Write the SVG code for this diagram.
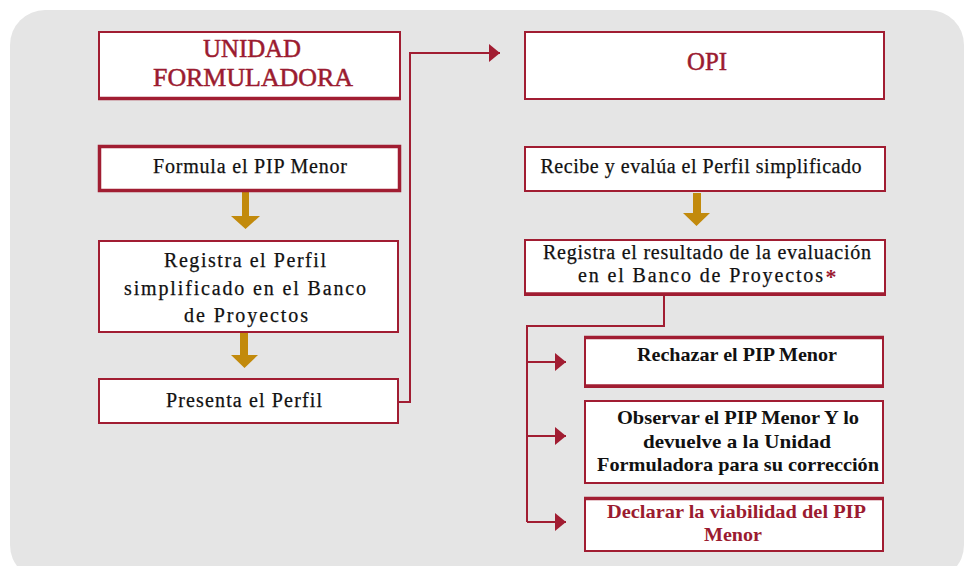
<svg xmlns="http://www.w3.org/2000/svg" width="965" height="566" viewBox="0 0 965 566">
  <style>
    .box { fill: #ffffff; stroke: #a11d32; stroke-width: 2; }
    .edge { stroke: #a11d32; stroke-width: 3.5; }
    .conn { fill: none; stroke: #a11d32; stroke-width: 2; }
    .gold { fill: #c28a0c; }
    .title { font-family: "Liberation Serif", "DejaVu Serif", serif; font-size: 25px; fill: #9b1b30; stroke: #9b1b30; stroke-width: 0.5; text-anchor: middle; }
    .step { font-family: "Liberation Serif", "DejaVu Serif", serif; font-size: 20px; fill: #111111; stroke: #111111; stroke-width: 0.25; text-anchor: middle; }
    .opt { font-family: "Liberation Serif", "DejaVu Serif", serif; font-size: 19px; font-weight: bold; fill: #111111; text-anchor: middle; }
    .red { fill: #9b1b30; stroke: none; }
  </style>
  <defs>
    <marker id="tip" markerUnits="userSpaceOnUse" markerWidth="12" markerHeight="18" viewBox="0 0 12 18" refX="11" refY="9" orient="auto">
      <path d="M0,0 L11,9 L0,18 Z" fill="#a11d32"/>
    </marker>
  </defs>

  <!-- panel -->
  <rect x="10" y="10" width="954" height="570" rx="35" ry="35" fill="#e5e5e5"/>

  <!-- connectors -->
  <g id="connectors">
    <path class="conn" d="M398,402 H410 V53 H500" marker-end="url(#tip)"/>
    <path class="conn" d="M664,296 V326 H527 V522"/>
    <path class="conn" d="M527,362 H566" marker-end="url(#tip)"/>
    <path class="conn" d="M527,436 H566" marker-end="url(#tip)"/>
    <path class="conn" d="M527,522 H566" marker-end="url(#tip)"/>
    <polygon class="gold" points="242,192 249,192 249,216 260,216 245.5,229 231,216 242,216"/>
    <polygon class="gold" points="240,333 248,333 248,355 258,355 244.5,368 231,355 240,355"/>
    <polygon class="gold" points="693,193 701,193 701,213 710,213 696.5,226 683,213 693,213"/>
  </g>

  <!-- left column -->
  <g id="unidad-formuladora">
    <rect class="box" x="99" y="32" width="301" height="67"/>
    <line class="edge" x1="98" y1="98.5" x2="401" y2="98.5"/>
    <text class="title" x="252" y="57" textLength="98" lengthAdjust="spacingAndGlyphs">UNIDAD</text>
    <text class="title" x="253" y="86" textLength="200" lengthAdjust="spacingAndGlyphs">FORMULADORA</text>
  </g>

  <g id="formula">
    <rect class="box" x="99.5" y="146.5" width="300" height="44" style="stroke-width:3.5"/>
    <text class="step" x="250" y="173" textLength="194" lengthAdjust="spacing">Formula el PIP Menor</text>
  </g>

  <g id="registra-perfil">
    <rect class="box" x="99" y="241" width="299" height="91"/>
    <text class="step" x="245" y="267" textLength="162" lengthAdjust="spacing">Registra el Perfil</text>
    <text class="step" x="245" y="295" textLength="242" lengthAdjust="spacing">simplificado en el Banco</text>
    <text class="step" x="246" y="322" textLength="124" lengthAdjust="spacing">de Proyectos</text>
  </g>

  <g id="presenta">
    <rect class="box" x="99" y="379" width="299" height="44"/>
    <text class="step" x="244" y="407" textLength="156" lengthAdjust="spacing">Presenta el Perfil</text>
  </g>

  <!-- right column -->
  <g id="opi">
    <rect class="box" x="525" y="32" width="359" height="67"/>
    <text class="title" x="707" y="70" textLength="40" lengthAdjust="spacingAndGlyphs">OPI</text>
  </g>

  <g id="recibe">
    <rect class="box" x="525" y="147" width="360" height="44"/>
    <text class="step" x="701" y="173" textLength="321" lengthAdjust="spacing">Recibe y evalúa el Perfil simplificado</text>
  </g>

  <g id="registra-resultado">
    <rect class="box" x="525" y="240" width="360" height="55"/>
    <line class="edge" x1="524" y1="294" x2="886" y2="294"/>
    <text class="step" x="707" y="259" textLength="328" lengthAdjust="spacing">Registra el resultado de la evaluación</text>
    <text class="step" x="700.5" y="282" textLength="245" lengthAdjust="spacing">en el Banco de Proyectos</text>
    <text class="step red" x="831" y="284" style="font-size:22px;font-weight:bold">*</text>
  </g>

  <g id="rechazar">
    <rect class="box" x="585" y="337" width="298" height="50"/>
    <line class="edge" x1="584" y1="337.5" x2="884" y2="337.5"/>
    <line class="edge" x1="584" y1="386" x2="884" y2="386"/>
    <text class="opt" x="737" y="361" textLength="200" lengthAdjust="spacingAndGlyphs">Rechazar el PIP Menor</text>
  </g>

  <g id="observar">
    <rect class="box" x="585" y="401" width="298" height="82"/>
    <text class="opt" x="738" y="424" textLength="242" lengthAdjust="spacingAndGlyphs">Observar el PIP Menor Y lo</text>
    <text class="opt" x="737" y="448" textLength="188" lengthAdjust="spacingAndGlyphs">devuelve a la Unidad</text>
    <text class="opt" x="738" y="471" textLength="282" lengthAdjust="spacingAndGlyphs">Formuladora para su corrección</text>
  </g>

  <g id="declarar">
    <rect class="box" x="585" y="498" width="298" height="53"/>
    <line class="edge" x1="584" y1="498.5" x2="884" y2="498.5"/>
    <text class="opt red" x="736.5" y="518" textLength="259" lengthAdjust="spacingAndGlyphs">Declarar la viabilidad del PIP</text>
    <text class="opt red" x="733" y="541" textLength="58" lengthAdjust="spacingAndGlyphs">Menor</text>
  </g>
</svg>
